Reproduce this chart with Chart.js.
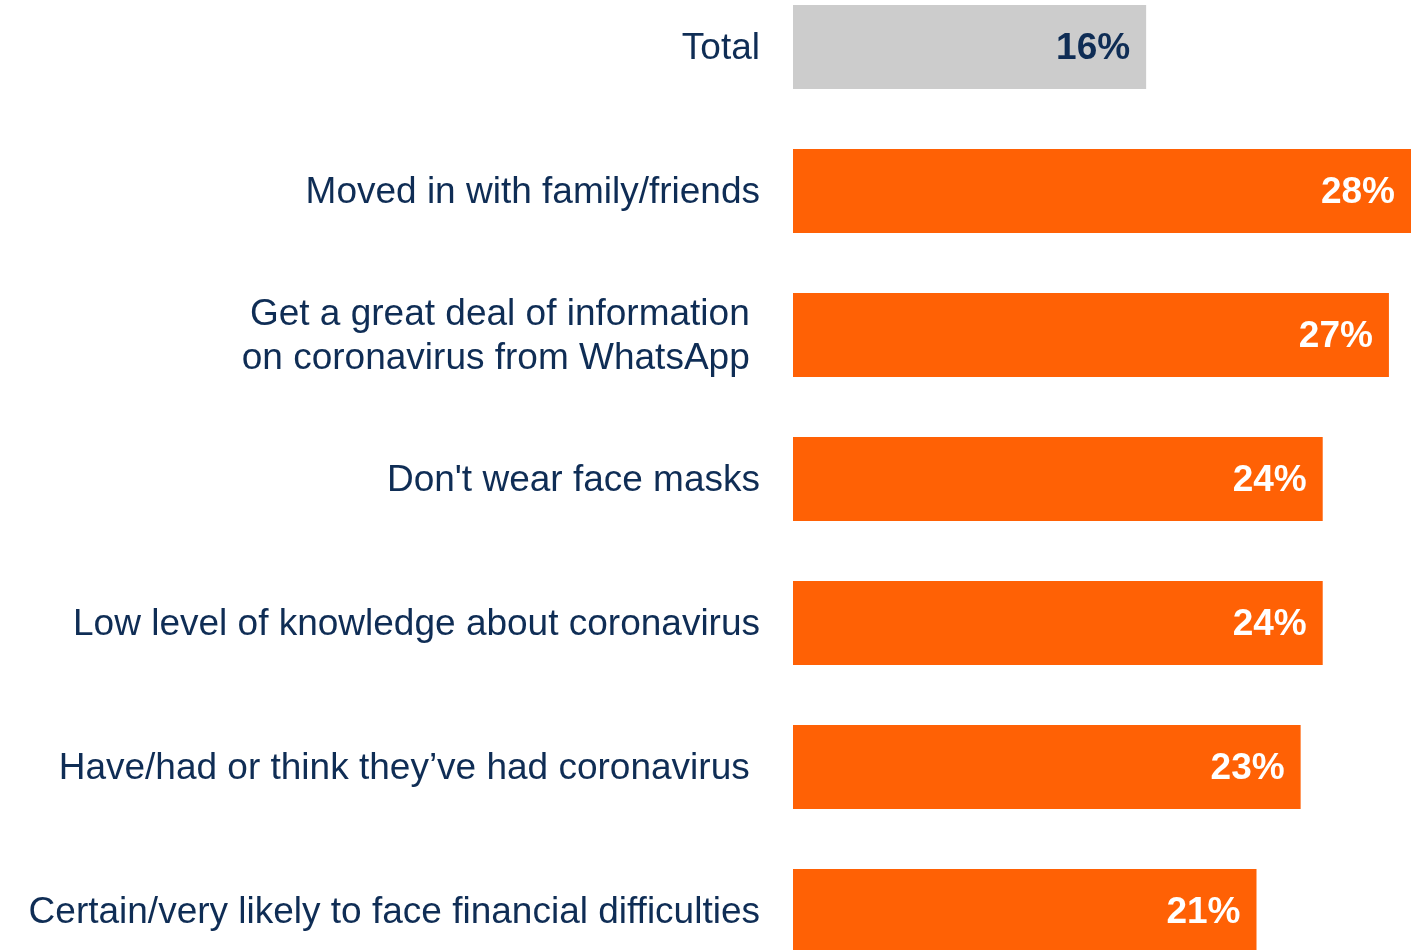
<!DOCTYPE html>
<html>
<head>
<meta charset="utf-8">
<script src="https://cdn.jsdelivr.net/npm/chart.js@4/dist/chart.umd.min.js"></script>
<style>
  html, body { margin: 0; padding: 0; background: #fff; overflow: hidden; }
  #wrap { position: absolute; left: 0; top: -25px; width: 1411px; height: 1008px; }
</style>
</head>
<body>
<div id="wrap"><canvas id="bar-chart" width="1411" height="1008"></canvas></div>
<script>
// categorias (las de dos lineas van como array)
const categorias = [
  "Total",
  "Moved in with family/friends",
  ["Get a great deal of information ", "on coronavirus from WhatsApp "],
  "Don't wear face masks",
  "Low level of knowledge about coronavirus",
  "Have/had or think they\u2019ve had coronavirus ",
  "Certain/very likely to face financial difficulties",
];
const porcentajes = [16, 28, 27, 24, 24, 23, 21];
const coloresBarra = ["#CCCCCC", "#FF6105", "#FF6105", "#FF6105", "#FF6105", "#FF6105", "#FF6105"];
const coloresEtiqueta = ["#0F2D55", "#FFFFFF", "#FFFFFF", "#FFFFFF", "#FFFFFF", "#FFFFFF", "#FFFFFF"];

const azul = "#0F2D55";
const fuente = "'Liberation Sans', Arial, sans-serif";

// escribe el % dentro de la barra, pegado al final
const etiquetasValor = {
  id: "etiquetasValor",
  afterDatasetsDraw(chart) {
    const ctx = chart.ctx;
    const meta = chart.getDatasetMeta(0);
    ctx.save();
    ctx.font = "bold 37px " + fuente;
    ctx.textAlign = "right";
    ctx.textBaseline = "middle";
    meta.data.forEach((bar, i) => {
      ctx.fillStyle = coloresEtiqueta[i];
      ctx.fillText(porcentajes[i] + "%", bar.x - 16, bar.y + 2);
    });
    ctx.restore();
  },
};

const barChart = document.getElementById("bar-chart");
let grafica = new Chart(barChart, {
  type: "bar",
  data: {
    labels: categorias,
    datasets: [
      {
        data: porcentajes,
        backgroundColor: coloresBarra,
        borderWidth: 0,
        barPercentage: 0.583,
        categoryPercentage: 1,
      },
    ],
  },
  options: {
    indexAxis: "y",
    responsive: false,
    animation: false,
    layout: { padding: 0 },
    plugins: {
      legend: { display: false },
      tooltip: { enabled: false },
    },
    scales: {
      x: {
        display: false,
        min: 0,
        max: 28,
      },
      y: {
        grid: { display: false, drawTicks: false },
        border: { display: false },
        afterFit(scale) {
          scale.width = 793;
          // sin margen arriba/abajo para que cada categoria mida lo mismo
          scale.paddingTop = 0;
          scale.paddingBottom = 0;
        },
        ticks: {
          color: azul,
          padding: 33,
          labelOffset: 2,
          font: { family: fuente, size: 37, lineHeight: 1.19 },
        },
      },
    },
  },
  plugins: [etiquetasValor],
});
</script>
</body>
</html>
